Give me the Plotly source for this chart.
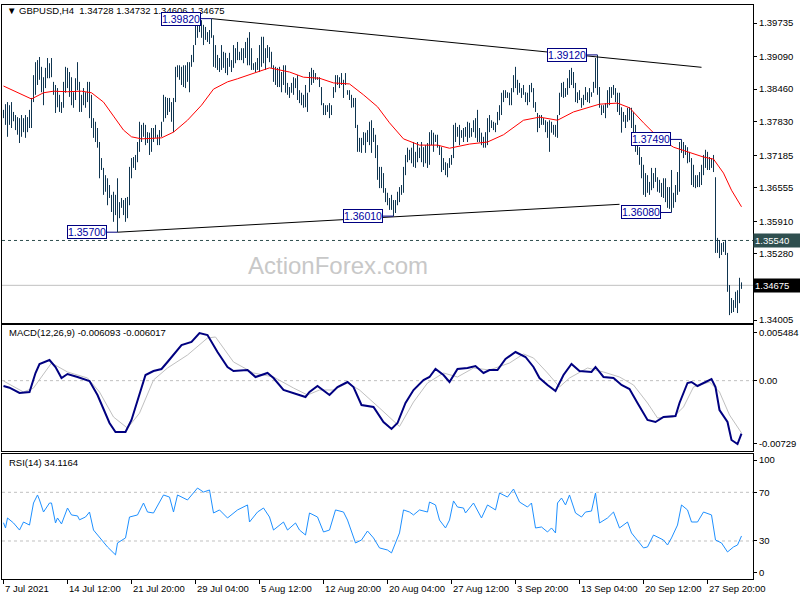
import plotly.graph_objects as go

# ---------------- data ----------------
symbol_title = "GBPUSD,H4"
last_ohlc = [1.34728, 1.34732, 1.34606, 1.34675]

bar_high = [
 1.3806,1.3817,1.3821,1.3815,1.3821,1.3802,1.3796,1.3792,1.3790,1.3796,
 1.3790,1.3796,1.3792,1.3806,1.3829,1.3873,1.3898,1.3902,1.3908,1.3889,
 1.3869,1.3887,1.3906,1.3896,1.3906,1.3860,1.3854,1.3848,1.3835,1.3821,
 1.3860,1.3889,1.3887,1.3879,1.3869,1.3840,1.3867,1.3898,1.3860,1.3835,
 1.3848,1.3840,1.3860,1.3860,1.3835,1.3790,1.3783,1.3771,1.3744,1.3713,
 1.3694,1.3680,1.3674,1.3661,1.3642,1.3648,1.3642,1.3674,1.3628,1.3636,
 1.3632,1.3636,1.3638,1.3696,1.3713,1.3715,1.3719,1.3744,1.3783,1.3777,
 1.3781,1.3777,1.3763,1.3762,1.3771,1.3771,1.3777,1.3758,1.3767,1.3783,
 1.3835,1.3831,1.3829,1.3829,1.3821,1.3829,1.3889,1.3892,1.3892,1.3889,
 1.3892,1.3892,1.3898,1.3898,1.3912,1.3931,1.3979,1.3976,1.3974,1.3979,
 1.3970,1.3966,1.3956,1.3960,1.3982,1.3950,1.3931,1.3912,1.3906,1.3931,
 1.3918,1.3916,1.3906,1.3916,1.3902,1.3931,1.3925,1.3937,1.3918,1.3925,
 1.3925,1.3937,1.3945,1.3956,1.3925,1.3896,1.3898,1.3906,1.3931,1.3947,
 1.3947,1.3925,1.3931,1.3927,1.3918,1.3892,1.3889,1.3887,1.3889,1.3879,
 1.3892,1.3892,1.3858,1.3850,1.3858,1.3869,1.3867,1.3873,1.3844,1.3839,
 1.3835,1.3854,1.3839,1.3879,1.3887,1.3883,1.3877,1.3869,1.3869,1.3850,
 1.3819,1.3815,1.3815,1.3819,1.3815,1.3850,1.3873,1.3873,1.3869,1.3877,
 1.3864,1.3877,1.3844,1.3844,1.3835,1.3829,1.3829,1.3777,1.3752,1.3752,
 1.3763,1.3762,1.3767,1.3783,1.3786,1.3771,1.3758,1.3738,1.3696,1.3696,
 1.3684,1.3655,1.3646,1.3636,1.3642,1.3632,1.3632,1.3648,1.3657,1.3661,
 1.3696,1.3719,1.3733,1.3729,1.3733,1.3744,1.3725,1.3744,1.3733,1.3744,
 1.3734,1.3738,1.3742,1.3763,1.3767,1.3762,1.3758,1.3758,1.3738,1.3734,
 1.3713,1.3705,1.3703,1.3713,1.3719,1.3777,1.3781,1.3773,1.3777,1.3767,
 1.3771,1.3773,1.3783,1.3781,1.3771,1.3786,1.3790,1.3806,1.3771,1.3762,
 1.3754,1.3763,1.3790,1.3796,1.3786,1.3783,1.3781,1.3802,1.3815,1.3839,
 1.3844,1.3844,1.3840,1.3839,1.3848,1.3873,1.3889,1.3864,1.3858,1.3848,
 1.3854,1.3840,1.3839,1.3854,1.3858,1.3848,1.3821,1.3800,1.3796,1.3796,
 1.3790,1.3786,1.3783,1.3786,1.3783,1.3777,1.3777,1.3796,1.3839,1.3858,
 1.3860,1.3848,1.3867,1.3883,1.3887,1.3879,1.3858,1.3840,1.3844,1.3829,
 1.3835,1.3850,1.3840,1.3848,1.3840,1.3860,1.3906,1.3912,1.3850,1.3815,
 1.3815,1.3819,1.3844,1.3850,1.3850,1.3854,1.3848,1.3839,1.3839,1.3811,
 1.3802,1.3796,1.3810,1.3811,1.3810,1.3802,1.3777,1.3758,1.3734,1.3715,
 1.3700,1.3684,1.3680,1.3667,1.3694,1.3684,1.3694,1.3676,1.3671,1.3665,
 1.3674,1.3674,1.3657,1.3657,1.3690,1.3646,1.3661,1.3686,1.3744,1.3749,
 1.3744,1.3738,1.3734,1.3725,1.3713,1.3700,1.3680,1.3680,1.3686,1.3700,
 1.3719,1.3729,1.3725,1.3715,1.3713,1.3719,1.3676,1.3559,1.3555,1.3549,
 1.3551,1.3555,1.3530,1.3468,1.3443,1.3439,1.3455,1.3458,1.3482,1.34732,
]
bar_low = [
 1.3790,1.3777,1.3754,1.3777,1.3771,1.3784,1.3767,1.3758,1.3742,1.3754,
 1.3763,1.3752,1.3763,1.3771,1.3771,1.3821,1.3835,1.3854,1.3864,1.3840,
 1.3815,1.3848,1.3867,1.3867,1.3869,1.3835,1.3800,1.3811,1.3802,1.3800,
 1.3810,1.3839,1.3848,1.3831,1.3815,1.3810,1.3825,1.3844,1.3802,1.3802,
 1.3815,1.3810,1.3821,1.3790,1.3771,1.3752,1.3744,1.3733,1.3674,1.3690,
 1.3642,1.3648,1.3622,1.3636,1.3609,1.3590,1.3603,1.3570,1.3597,1.3617,
 1.3603,1.3590,1.3597,1.3622,1.3674,1.3694,1.3690,1.3705,1.3725,1.3744,
 1.3754,1.3738,1.3742,1.3719,1.3725,1.3744,1.3752,1.3738,1.3738,1.3754,
 1.3783,1.3790,1.3796,1.3802,1.3783,1.3763,1.3821,1.3869,1.3864,1.3854,
 1.3850,1.3848,1.3860,1.3840,1.3889,1.3898,1.3931,1.3945,1.3956,1.3945,
 1.3931,1.3941,1.3937,1.3933,1.3945,1.3889,1.3887,1.3883,1.3879,1.3883,
 1.3887,1.3877,1.3873,1.3889,1.3879,1.3887,1.3896,1.3902,1.3902,1.3902,
 1.3896,1.3906,1.3892,1.3892,1.3883,1.3883,1.3879,1.3883,1.3879,1.3889,
 1.3896,1.3883,1.3906,1.3898,1.3887,1.3860,1.3854,1.3850,1.3850,1.3840,
 1.3854,1.3839,1.3835,1.3829,1.3839,1.3835,1.3848,1.3825,1.3819,1.3815,
 1.3810,1.3811,1.3802,1.3840,1.3854,1.3858,1.3864,1.3864,1.3850,1.3815,
 1.3796,1.3796,1.3802,1.3790,1.3796,1.3829,1.3840,1.3854,1.3848,1.3854,
 1.3829,1.3854,1.3835,1.3825,1.3810,1.3811,1.3771,1.3725,1.3725,1.3723,
 1.3738,1.3723,1.3744,1.3738,1.3723,1.3744,1.3713,1.3671,1.3655,1.3655,
 1.3646,1.3628,1.3622,1.3613,1.3613,1.3601,1.3607,1.3622,1.3628,1.3642,
 1.3646,1.3680,1.3705,1.3709,1.3703,1.3696,1.3694,1.3705,1.3713,1.3705,
 1.3696,1.3703,1.3694,1.3700,1.3738,1.3725,1.3744,1.3733,1.3719,1.3686,
 1.3690,1.3680,1.3676,1.3694,1.3700,1.3713,1.3744,1.3754,1.3738,1.3752,
 1.3744,1.3754,1.3744,1.3752,1.3754,1.3763,1.3752,1.3744,1.3744,1.3738,
 1.3733,1.3733,1.3738,1.3763,1.3771,1.3767,1.3763,1.3777,1.3786,1.3796,
 1.3821,1.3829,1.3829,1.3815,1.3815,1.3840,1.3848,1.3835,1.3839,1.3829,
 1.3835,1.3821,1.3815,1.3821,1.3840,1.3810,1.3802,1.3763,1.3771,1.3777,
 1.3777,1.3763,1.3752,1.3725,1.3762,1.3758,1.3754,1.3752,1.3796,1.3831,
 1.3829,1.3831,1.3835,1.3848,1.3854,1.3848,1.3821,1.3819,1.3825,1.3810,
 1.3815,1.3825,1.3821,1.3819,1.3831,1.3839,1.3848,1.3835,1.3810,1.3796,
 1.3800,1.3790,1.3810,1.3815,1.3829,1.3835,1.3821,1.3802,1.3796,1.3762,
 1.3783,1.3771,1.3783,1.3786,1.3771,1.3738,1.3725,1.3719,1.3700,1.3674,
 1.3642,1.3638,1.3646,1.3642,1.3651,1.3655,1.3667,1.3648,1.3646,1.3638,
 1.3636,1.3628,1.3617,1.3615,1.3608,1.3617,1.3628,1.3642,1.3648,1.3723,
 1.3713,1.3719,1.3703,1.3705,1.3661,1.3657,1.3655,1.3657,1.3657,1.3661,
 1.3680,1.3694,1.3690,1.3690,1.3694,1.3686,1.3530,1.3530,1.3520,1.3526,
 1.3532,1.3526,1.3455,1.3410,1.3414,1.3416,1.3424,1.3414,1.3433,1.34606,
]

ma_bar = [0,7,14,20,25,32,39,44,50,55,60,64,69,79,85,92,99,105,112,117,125,133,143,150,158,165,173,180,
          187,193,200,208,217,223,233,242,250,260,268,277,285,293,298,307,313,320,327,335,342,350,355,360,364,369]
ma_val = [1.3852,1.3840,1.3827,1.3839,1.3842,1.3841,1.3842,1.3839,1.3821,1.3794,1.3767,1.3754,1.3750,1.3752,
          1.3763,1.3786,1.3815,1.3846,1.3860,1.3866,1.3877,1.3887,1.3879,1.3869,1.3867,1.3858,1.3856,1.3835,
          1.3812,1.3781,1.3750,1.3738,1.3738,1.3732,1.3740,1.3744,1.3758,1.3786,1.3792,1.3786,1.3802,1.3812,
          1.3817,1.3819,1.3810,1.3781,1.3754,1.3734,1.3725,1.3715,1.3711,1.3684,1.3651,1.3619]

macd_bar = [0,3,8,13,16,18,23,26,29,32,37,43,47,50,53,56,61,64,67,71,75,79,82,86,89,94,98,102,107,112,
            115,122,126,132,135,140,145,151,153,157,163,167,172,175,179,185,190,194,197,201,205,210,213,216,
            220,223,227,232,236,240,243,247,251,256,261,265,268,272,276,280,284,288,294,296,300,305,309,313,
            317,322,326,330,336,338,342,344,347,351,354,356,358,362,364,367,369]
macd_val = [-0.000616,-0.000811,-0.001421,-0.001306,0.000880,0.001916,0.002377,0.001571,0.000305,0.000765,
            0.000420,-0.000040,-0.001652,-0.003378,-0.004875,-0.005910,-0.005910,-0.004529,-0.002227,0.000650,
            0.001111,0.001341,0.002147,0.003298,0.004103,0.004449,0.005484,0.005254,0.003298,0.001571,
            0.001111,0.001226,0.000420,0.000880,0.000305,-0.001076,-0.001421,-0.001882,-0.001306,-0.000616,
            -0.001652,-0.000731,-0.000155,-0.000731,-0.002803,-0.003033,-0.004759,-0.005565,-0.004875,-0.002573,
            -0.001076,0.000075,0.000420,0.001341,0.000650,-0.000155,0.001341,0.001456,0.001686,0.000880,
            0.001226,0.001226,0.002492,0.003298,0.002722,0.001571,0.000305,-0.000501,-0.001191,0.000650,
            0.001916,0.001111,0.000996,0.001571,0.000420,0.000305,-0.000501,-0.000961,-0.002573,-0.004529,
            -0.004759,-0.004184,-0.004069,-0.002573,-0.000270,-0.000155,-0.000616,-0.000155,0.000190,-0.000731,
            -0.003378,-0.004759,-0.006831,-0.007290,-0.006093]
signal_bar = [0,10,15,24,32,42,48,55,62,68,75,82,92,102,106,115,125,135,145,152,158,165,172,178,188,198,
              205,212,220,227,235,243,253,260,265,272,278,283,292,300,308,315,322,327,335,340,345,353,358,363,369]
signal_val = [-0.000040,-0.001306,-0.000846,0.002030,0.000996,0.000305,-0.001306,-0.004184,-0.005467,-0.003741,
              0.000075,0.001456,0.002952,0.004909,0.005024,0.002147,0.000880,0.000420,-0.000846,-0.001652,
              -0.001076,-0.001076,-0.000270,-0.001076,-0.003148,-0.005277,-0.002458,-0.000270,0.000880,0.000420,
              0.001456,0.001226,0.002030,0.003067,0.002607,0.000880,-0.000731,0.000305,0.001456,0.000996,
              0.000420,-0.000501,-0.002573,-0.004299,-0.004184,-0.003033,-0.000731,-0.000155,-0.001306,-0.003954,
              -0.006017]

rsi_bar = [0,1,2,5,8,10,13,15,17,18,20,23,24,26,27,29,32,34,37,38,41,43,45,48,52,56,57,61,63,67,
           70,72,75,80,83,85,87,92,97,100,103,105,108,112,117,122,123,127,130,133,135,140,142,146,148,
           151,153,157,160,163,166,170,172,176,179,182,185,188,192,194,196,198,200,203,205,208,212,213,
           216,218,221,223,225,227,230,231,235,239,242,246,248,252,255,258,262,264,266,269,272,274,276,
           277,279,281,283,286,289,291,294,296,298,302,305,308,312,314,316,320,322,325,330,332,334,337,
           339,342,344,347,350,354,356,359,362,365,367,369]
rsi_val = [45.0,40.7,48.9,44.8,39.0,45.6,43.1,61.2,67.8,63.7,53.8,61.2,61.2,44.8,48.9,44.0,57.1,51.4,50.6,47.4,
           49.7,53.8,39.0,33.3,25.1,18.6,28.4,32.5,49.7,51.4,61.2,53.8,53.0,67.8,66.1,53.8,67.8,63.7,73.5,70.2,
           71.9,53.0,55.5,48.9,55.5,59.6,45.6,53.8,57.1,49.7,39.0,45.6,39.0,44.8,39.0,34.9,53.0,49.7,37.4,39.0,
           55.5,53.8,47.2,28.4,30.8,38.2,32.5,24.3,22.6,20.2,28.4,36.6,55.5,53.8,51.4,55.5,53.8,62.0,59.6,47.2,
           40.7,47.2,62.9,57.9,57.1,53.0,61.2,48.9,59.6,55.5,69.4,66.1,72.7,62.0,57.9,61.2,40.7,41.5,37.4,40.7,
           36.6,61.2,65.3,59.6,67.8,53.0,49.7,53.8,54.6,69.4,44.8,48.9,53.8,40.7,45.6,36.6,32.5,24.3,25.1,34.9,
           30.8,26.7,32.5,43.1,59.6,55.5,45.6,45.6,53.8,51.4,30.8,28.4,21.0,25.1,26.7,34.1164]

macd_last = [-0.006093, -0.006017]
rsi_last = 34.1164

price_ticks = [1.39735, 1.39090, 1.38460, 1.37830, 1.37185, 1.36555, 1.35910, 1.35280, 1.34005]
macd_ticks = [0.005484, 0.0, -0.00729]
macd_tick_text = ["0.005484", "0.00", "-0.00729"]
rsi_levels = [70, 30]
rsi_tick_text = ["100", "70", "30", "0"]

date_bars = [0, 32, 64, 96, 128, 160, 192, 224, 256, 288, 320, 352]
date_labels = ["7 Jul 2021", "14 Jul 12:00", "21 Jul 20:00", "29 Jul 04:00", "5 Aug 12:00",
               "12 Aug 20:00", "20 Aug 04:00", "27 Aug 12:00", "3 Sep 20:00", "13 Sep 04:00",
               "20 Sep 12:00", "27 Sep 20:00"]

swing_bars = [57, 104, 195, 297, 339, 334]
swing_prices = [1.35700, 1.39820, 1.36010, 1.39120, 1.37490, 1.36080]

upper_trend_bars = [104, 349]
upper_trend_prices = [1.39820, 1.38881]
lower_trend_bars = [57, 308]
lower_trend_prices = [1.35700, 1.36238]

support_level = 1.35540
bid_price = 1.34675

# ---------------- figure ----------------
FONT = "Liberation Sans, Arial, sans-serif"
BAR_COLOR = "#0F3550"

bx, by = [], []
for i, (h, l) in enumerate(zip(bar_high, bar_low)):
    bx += [i, i, None]
    by += [l, h, None]

fig = go.Figure()
fig.add_trace(go.Scatter(x=bx, y=by, mode="lines", line=dict(color=BAR_COLOR, width=1),
                         xaxis="x", yaxis="y", hoverinfo="skip"))
fig.add_trace(go.Scatter(x=ma_bar, y=ma_val, mode="lines", line=dict(color="#FF0000", width=1),
                         xaxis="x", yaxis="y", hoverinfo="skip"))
fig.add_trace(go.Scatter(x=upper_trend_bars, y=upper_trend_prices, mode="lines",
                         line=dict(color="black", width=1), xaxis="x", yaxis="y", hoverinfo="skip"))
fig.add_trace(go.Scatter(x=lower_trend_bars, y=lower_trend_prices, mode="lines",
                         line=dict(color="black", width=1), xaxis="x", yaxis="y", hoverinfo="skip"))

fig.add_trace(go.Scatter(x=signal_bar, y=signal_val, mode="lines", line=dict(color="#C0C0C0", width=1),
                         xaxis="x2", yaxis="y2", hoverinfo="skip"))
fig.add_trace(go.Scatter(x=macd_bar, y=macd_val, mode="lines", line=dict(color="#000080", width=2),
                         xaxis="x2", yaxis="y2", hoverinfo="skip"))

fig.add_trace(go.Scatter(x=rsi_bar, y=rsi_val, mode="lines", line=dict(color="#1E90FF", width=1),
                         xaxis="x3", yaxis="y3", hoverinfo="skip"))

shapes = [
    dict(type="line", xref="x domain", x0=0, x1=1, yref="y", y0=support_level, y1=support_level,
         line=dict(color="#2F4F4F", width=1, dash="3px,3px"), layer="below"),
    dict(type="line", xref="x domain", x0=0, x1=1, yref="y", y0=bid_price, y1=bid_price,
         line=dict(color="#C0C0C0", width=1), layer="below"),
    dict(type="line", xref="x2 domain", x0=0, x1=1, yref="y2", y0=0, y1=0,
         line=dict(color="#C0C0C0", width=1, dash="3px,3px"), layer="below"),
]
for lv in rsi_levels:
    shapes.append(dict(type="line", xref="x3 domain", x0=0, x1=1, yref="y3", y0=lv, y1=lv,
                       line=dict(color="#C0C0C0", width=1, dash="3px,3px"), layer="below"))

ann = []
ann.append(dict(xref="paper", yref="paper", x=0.004, y=0.9896, xanchor="left", yanchor="middle",
                showarrow=False,
                text="▼\u00a0" + symbol_title + "\u00a0\u00a0" + "\u00a0".join(f"{v:.5f}" for v in last_ohlc),
                font=dict(family=FONT, size=9.5, color="black")))
ann.append(dict(xref="paper", yref="paper", x=0.006, y=0.4286, xanchor="left", yanchor="middle",
                showarrow=False, text=f"MACD(12,26,9) {macd_last[0]:.6f} {macd_last[1]:.6f}",
                font=dict(family=FONT, size=9.5, color="black")))
ann.append(dict(xref="paper", yref="paper", x=0.006, y=0.2021, xanchor="left", yanchor="middle",
                showarrow=False, text=f"RSI(14) {rsi_last:.4f}",
                font=dict(family=FONT, size=9.5, color="black")))
ann.append(dict(xref="paper", yref="paper", x=0.4474, y=0.5453, xanchor="center", yanchor="middle",
                showarrow=False, text="ActionForex.com",
                font=dict(family=FONT, size=24, color="#C8C8C8")))

for b, p in zip(swing_bars, swing_prices):
    ann.append(dict(x=b, y=p, xref="x", yref="y", text=f"{p:.5f}", showarrow=True, arrowhead=0,
                    arrowwidth=1, arrowcolor="#000080", ax=-31, ay=0, standoff=0,
                    font=dict(family=FONT, size=10.5, color="#0000A0"), bgcolor="white",
                    bordercolor="#000080", borderwidth=1, borderpad=0))

ann.append(dict(xref="paper", yref="y", x=1, y=support_level, xanchor="left", yanchor="middle",
                showarrow=False, text=f"{support_level:.5f}", bgcolor="#2F4F4F", width=44, align="left",
                borderpad=1, font=dict(family=FONT, size=9.5, color="white")))
ann.append(dict(xref="paper", yref="y", x=1, y=bid_price, xanchor="left", yanchor="middle",
                showarrow=False, text=f"{bid_price:.5f}", bgcolor="black", width=44, align="left",
                borderpad=1, font=dict(family=FONT, size=9.5, color="white")))

for b, lab in zip(date_bars, date_labels):
    ann.append(dict(x=b, xref="x3", y=-0.0157, yref="paper", xanchor="left", yanchor="middle",
                    showarrow=False, text=lab, xshift=-1, font=dict(family=FONT, size=9.5, color="black")))

XR = [-0.75, 374.75]
common_x = dict(range=XR, showgrid=False, zeroline=False, showline=True, mirror=True,
                linecolor="black", linewidth=1, fixedrange=True)
common_y = dict(side="right", showgrid=False, zeroline=False, showline=True, mirror=True,
                linecolor="black", linewidth=1, tickfont=dict(family=FONT, size=9.5, color="black"),
                ticks="outside", ticklen=3, tickcolor="black", automargin=False, fixedrange=True)

fig.update_layout(
    width=800, height=600,
    margin=dict(l=2, r=47, t=5, b=21, autoexpand=False),
    paper_bgcolor="white", plot_bgcolor="white",
    showlegend=False,
    hovermode=False,
    xaxis=dict(common_x, domain=[0, 1], anchor="y", showticklabels=False, ticks=""),
    xaxis2=dict(common_x, domain=[0, 1], anchor="y2", showticklabels=False, ticks=""),
    xaxis3=dict(common_x, domain=[0, 1], anchor="y3", showticklabels=False, ticks="outside",
                ticklen=4, tickcolor="black", tickvals=date_bars),
    yaxis=dict(common_y, domain=[0.44599, 1.0], anchor="x", range=[1.33948, 1.40083],
               tickvals=price_ticks, ticktext=[f"{v:.5f}" for v in price_ticks]),
    yaxis2=dict(common_y, domain=[0.22300, 0.44251], anchor="x2", range=[-0.008097, 0.006405],
                tickvals=macd_ticks, ticktext=macd_tick_text),
    yaxis3=dict(common_y, domain=[0.0, 0.21777], anchor="x3", range=[-1.22, 101.46],
                tickvals=[96.5, 70, 30, 3.96], ticktext=rsi_tick_text),
    shapes=shapes,
    annotations=ann,
)

fig.write_html("out.html", config={"displayModeBar": False, "staticPlot": True},
               post_script="document.body.style.margin='0';document.body.style.overflow='hidden';")
